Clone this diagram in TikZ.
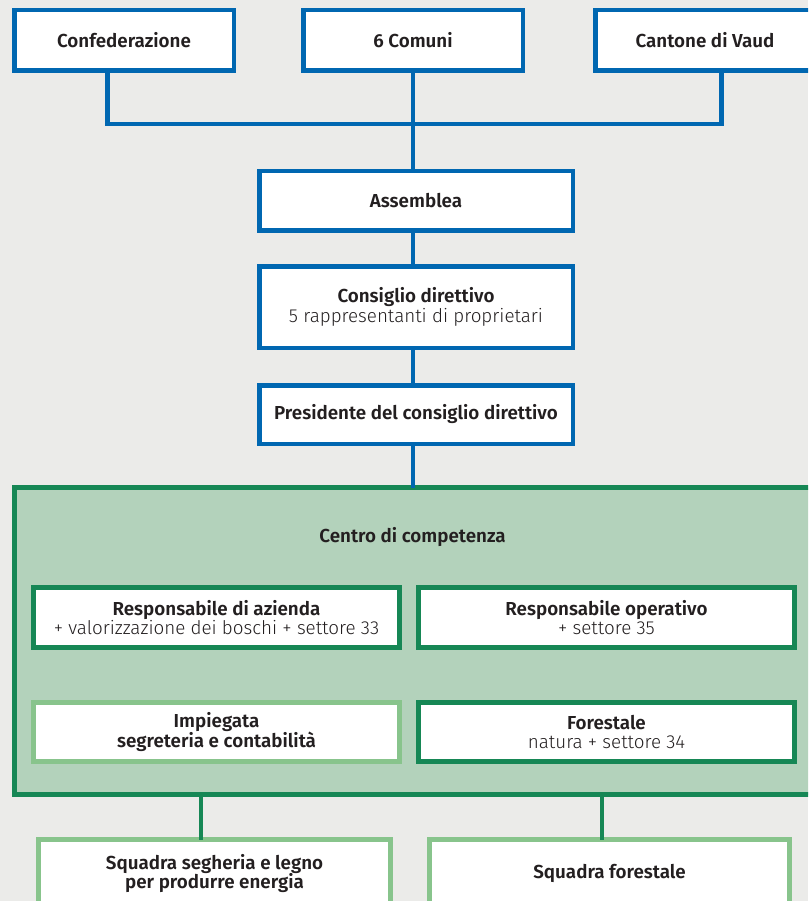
\documentclass[tikz,border=0pt]{standalone}
\usepackage{fontspec}
\setmainfont{Fira Sans}[BoldFont={Fira Sans SemiBold}]
\newfontfamily\lightf{Fira Sans Light}
\definecolor{bg}{RGB}{235,235,233}
\definecolor{cblue}{RGB}{0,103,177}
\definecolor{dgreen}{RGB}{22,135,85}
\definecolor{lgreen}{RGB}{136,196,140}
\definecolor{gfill}{RGB}{179,210,187}
\definecolor{txt}{RGB}{35,31,32}
\begin{document}
\begin{tikzpicture}[x=1pt,y=1pt,
  base/.style={draw, fill=white, inner sep=0pt, outer sep=0pt, align=center,
    text=txt, font=\fontsize{18.8}{19.5}\selectfont\bfseries},
  bluebox/.style={base, draw=cblue, line width=4.5pt},
  dgbox/.style={base, draw=dgreen, line width=5pt},
  lgbox/.style={base, draw=lgreen, line width=5pt},
  bline/.style={draw=cblue, line width=4.5pt},
  gline/.style={draw=dgreen, line width=4.5pt}]
\useasboundingbox (0,0) rectangle (808,-901);
\fill[bg] (0,0) rectangle (808,-901);
\clip (0,0) rectangle (808,-901);
% top row
\node[bluebox, minimum width=219.5, minimum height=60.5] (conf) at (124,-40.5) {Confederazione};
\node[bluebox, minimum width=219.5, minimum height=60.5] (com) at (413,-40.5) {6 Comuni};
\node[bluebox, minimum width=219.5, minimum height=60.5] (cant) at (705,-40.5) {Cantone di Vaud};
\coordinate (j) at (413,-124);
\draw[bline] ([xshift=-16.3pt]conf.south) |- (j) -| ([xshift=16.3pt]cant.south);
% chain
\node[bluebox, minimum width=313.5, minimum height=59.5] (ass) at (416,-201) {Assemblea};
\node[bluebox, minimum width=313.5, minimum height=81.5] (cons) at (416,-307) {Consiglio direttivo\\{\lightf\mdseries 5 rappresentanti di proprietari}};
\node[bluebox, minimum width=313.5, minimum height=58.5] (pres) at (416,-414.5) {Presidente del consiglio direttivo};
% green container
\node[draw=dgreen, fill=gfill, line width=5pt, inner sep=0pt, outer sep=0pt,
  minimum width=813, minimum height=307] (cent) at (421,-641) {};
\node[text=txt, font=\fontsize{18.8}{19.5}\selectfont\bfseries] (ctitle) at (412.5,-537) {Centro di competenza};
\draw[bline] (com.south) -- (com.south |- ass.north);
\draw[bline] (com.south |- ass.south) -- (com.south |- cons.north);
\draw[bline] (com.south |- cons.south) -- (com.south |- pres.north);
\draw[bline] (com.south |- pres.south) -- (com.south |- cent.north);
% inner boxes
\node[dgbox, minimum width=366, minimum height=60] (raz) at (216.5,-617.5) {Responsabile di azienda\\{\lightf\mdseries + valorizzazione dei boschi + settore 33}};
\node[dgbox, minimum width=376, minimum height=60] (rop) at (606.5,-617.5) {Responsabile operativo\\{\lightf\mdseries + settore 35}};
\node[lgbox, minimum width=366, minimum height=59] (imp) at (216.5,-732) {Impiegata\\segreteria e contabilità};
\node[dgbox, minimum width=376, minimum height=59] (for) at (606.5,-732) {Forestale\\{\lightf\mdseries natura + settore 34}};
% bottom boxes
\node[lgbox, minimum width=352, minimum height=68] (sseg) at (214.5,-873.5) {Squadra segheria e legno\\per produrre energia};
\node[lgbox, minimum width=360, minimum height=68] (sfor) at (609.5,-873.5) {Squadra forestale};
\draw[gline] (cent.south -| 201,0) -- (sseg.north -| 201,0);
\draw[gline] (cent.south -| 602,0) -- (sfor.north -| 602,0);
\end{tikzpicture}
\end{document}
